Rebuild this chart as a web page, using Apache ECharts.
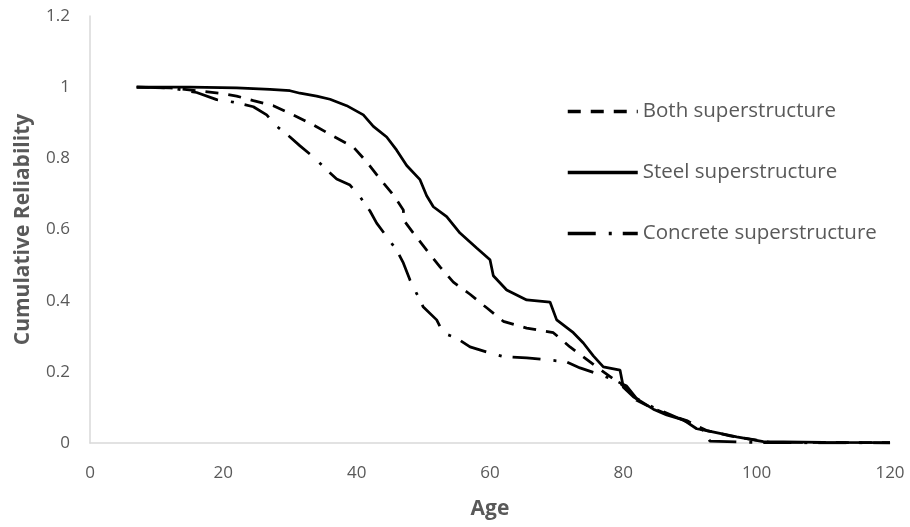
<!DOCTYPE html>
<html>
<head>
<meta charset="utf-8">
<script src="https://cdn.jsdelivr.net/npm/echarts@6/dist/echarts.min.js"></script>
<style>
  html, body { margin: 0; padding: 0; background: #fff; }
  #chart_line { width: 910px; height: 527px; }
</style>
</head>
<body>
<div id="chart_line"></div>
<script>
// values: [age, reliability]
var steelData = [
  [7, 1.0], [15, 1.0], [22, 0.998], [27, 0.994], [30, 0.99], [31.5, 0.983], [34, 0.975],
  [36, 0.966], [38.5, 0.948], [41, 0.922], [42.5, 0.89], [44.5, 0.86], [46, 0.823],
  [47.5, 0.78], [49.5, 0.74], [50.5, 0.695], [51.5, 0.664], [53.5, 0.636], [55.5, 0.59],
  [58, 0.548], [60, 0.515], [60.5, 0.47], [62.5, 0.43], [65.5, 0.402], [69, 0.396],
  [70, 0.346], [72.5, 0.31], [74, 0.281], [75.5, 0.245], [77, 0.214], [79.5, 0.205],
  [80, 0.157], [81.5, 0.13], [84.5, 0.095], [86.5, 0.079], [89, 0.065], [91, 0.04],
  [92.5, 0.035], [97, 0.017], [101, 0.004], [110, 0.002], [120, 0.001]
]
var bothData = [
  [7, 1.0], [12, 0.998], [16, 0.99], [19.5, 0.983], [22, 0.975], [24.5, 0.962],
  [27.5, 0.948], [30.5, 0.922], [33.5, 0.894], [36.5, 0.862], [39.5, 0.832], [41.5, 0.79],
  [43.5, 0.742], [45.5, 0.697], [47, 0.655], [47.1, 0.625], [48.5, 0.59], [50.5, 0.542],
  [52.5, 0.495], [54.5, 0.452], [57, 0.418], [59.5, 0.38], [62, 0.342], [65.5, 0.323],
  [69.5, 0.31], [72, 0.27], [74.5, 0.235], [76.5, 0.207], [78.5, 0.18], [80.5, 0.155],
  [82, 0.12], [84.5, 0.097], [87, 0.078], [89.5, 0.063], [92.5, 0.035], [96, 0.02],
  [100, 0.008], [102, 0.002], [120, 0.001]
]
var concreteData = [
  [7, 1.0], [12, 0.998], [16, 0.985], [19, 0.965], [21.5, 0.958], [24.5, 0.945],
  [26.5, 0.922], [28, 0.89], [30, 0.86], [31.5, 0.835], [33.5, 0.804], [35.5, 0.768],
  [37, 0.742], [39, 0.725], [40.5, 0.692], [42, 0.652], [43, 0.618], [44.5, 0.58],
  [46, 0.542], [47, 0.506], [48, 0.458], [49, 0.42], [50, 0.382], [52, 0.346], [53, 0.309],
  [55, 0.295], [57, 0.27], [60, 0.253], [62, 0.243], [65.5, 0.239], [69, 0.233],
  [71.5, 0.228], [73.5, 0.211], [76.5, 0.192], [78.5, 0.178], [80.5, 0.16], [82, 0.125],
  [84.5, 0.1], [87, 0.08], [89.5, 0.06], [92, 0.035], [93, 0.005], [97, 0.003],
  [100, 0.001], [120, 0]
]
var seriesNames = ['Both superstructure', 'Steel superstructure', 'Concrete superstructure']

var font = '"Open Sans", sans-serif'
var gray = '#595959'

var chart = echarts.init(document.getElementById('chart_line'))

function makeSeries(name, data, dash) {
  return {
    name: name,
    type: 'line',
    symbol: 'none',
    data: data,
    lineStyle: {
      color: '#000',
      width: 2.75,
      type: dash
    },
    itemStyle: { color: '#000' }
  }
}

chart.setOption({
  animation: false,
  grid: { left: 90, right: 20, top: 16, bottom: 84 },
  legend: {
    orient: 'vertical',
    left: 561,
    top: 96,
    itemWidth: 70,
    itemHeight: 14,
    itemGap: 40,
    itemStyle: { opacity: 0 },
    lineStyle: { width: 3.5 },
    data: seriesNames,
    textStyle: { fontFamily: font, fontSize: 20.5, color: gray }
  },
  xAxis: {
    type: 'value',
    min: 0,
    max: 120,
    interval: 20,
    name: 'Age',
    nameLocation: 'middle',
    nameGap: 56,
    nameTextStyle: { fontFamily: font, fontSize: 21, fontWeight: 'bold', color: gray },
    axisLine: { lineStyle: { color: '#d9d9d9', width: 1.5 } },
    axisTick: { show: false },
    splitLine: { show: false },
    axisLabel: { fontFamily: font, fontSize: 17, color: gray, margin: 22 }
  },
  yAxis: {
    type: 'value',
    min: 0,
    max: 1.2,
    interval: 0.2,
    name: 'Cumulative Reliability',
    nameLocation: 'middle',
    nameGap: 56,
    nameTextStyle: { fontFamily: font, fontSize: 21, fontWeight: 'bold', color: gray },
    axisLine: { show: true, lineStyle: { color: '#d9d9d9', width: 1.5 } },
    axisTick: { show: false },
    splitLine: { show: false },
    axisLabel: {
      fontFamily: font,
      fontSize: 17,
      color: gray,
      margin: 20,
      formatter: function (v) { return String(Math.round(v * 10) / 10) }
    }
  },
  series: [
    makeSeries(seriesNames[0], bothData, [13, 10]),
    makeSeries(seriesNames[1], steelData, 'solid'),
    makeSeries(seriesNames[2], concreteData, [28, 13, 3, 11])
  ]
})
</script>
</body>
</html>
